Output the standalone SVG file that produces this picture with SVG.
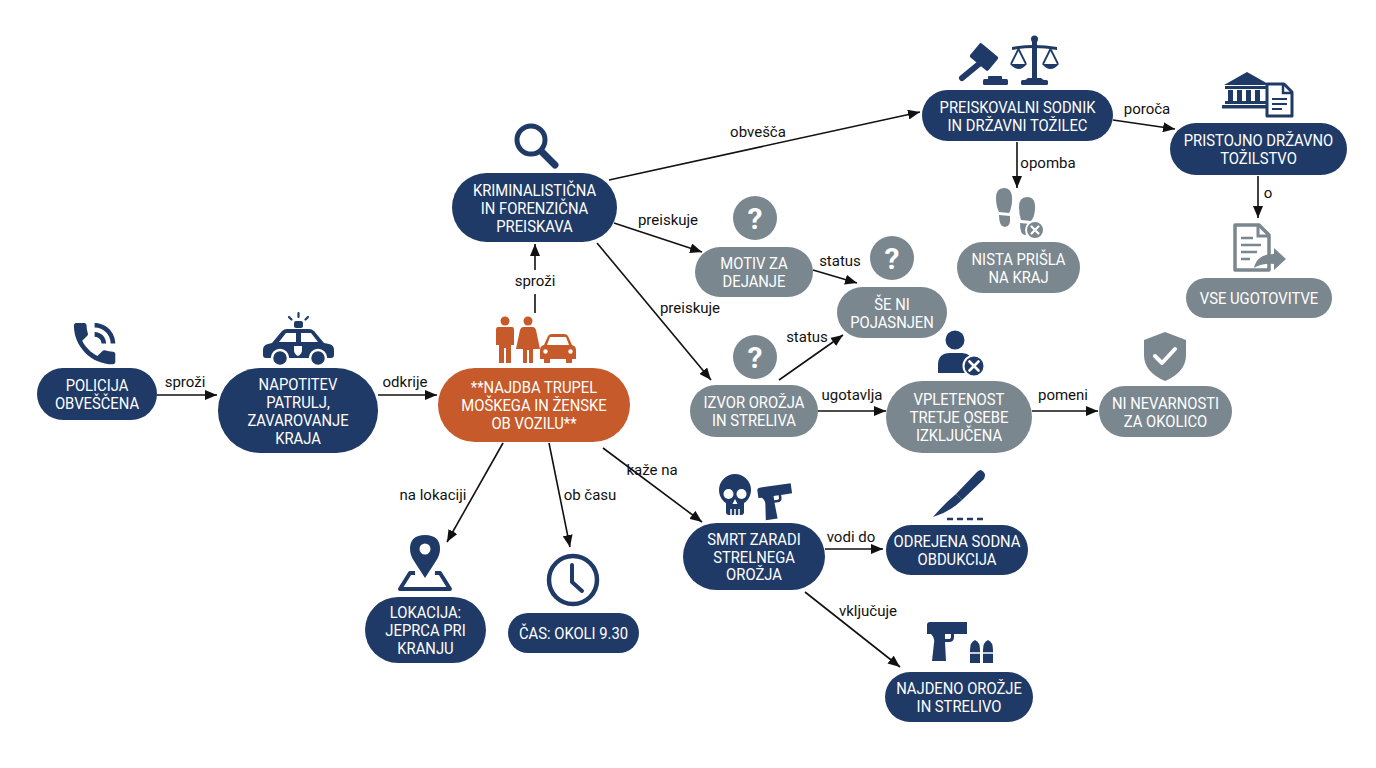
<svg xmlns="http://www.w3.org/2000/svg" width="1376" height="768" viewBox="0 0 1376 768">
<style>
.navy{fill:#1f3a66}
.grey{fill:#7b878f}
.orange{fill:#c65a2b}
.nt{font-family:Roboto,"Liberation Sans",sans-serif;font-size:17px;font-weight:400;fill:#ffffff;text-anchor:middle}
.lb{font-family:Roboto,"Liberation Sans",sans-serif;font-size:15px;fill:#111111;text-anchor:middle}
.edge{stroke:#111111;stroke-width:1.6;fill:none;marker-end:url(#arr)}
.q{font-family:Roboto,"Liberation Sans",sans-serif;font-size:30px;font-weight:700;fill:#ffffff;text-anchor:middle}
.ic{fill:#1f3a66}
.icg{fill:#7b878f}
</style>
<defs>
<marker id="arr" viewBox="0 0 12 10" refX="12" refY="5" markerWidth="12" markerHeight="10" markerUnits="userSpaceOnUse" orient="auto">
<path d="M0,0 L12,5 L0,10 Z" fill="#111111"/>
</marker>
<path id="pistol" d="M0,3 Q0,0 3,0 L40,0 L40,12 L27,12 L27,15 Q27,20 22,20 L18,20 L19,39 L5,39 L7,21 Q8,16 4,12 L0,12 Z M18,12 L18,17 L22,17 Q24,17 24,15 L24,12 Z" fill-rule="evenodd"/>
</defs>
<rect width="1376" height="768" fill="#ffffff"/>

<g id="connectors">
<path class="edge" d="M157,395 L217,395"/>
<text class="lb" x="185" y="387">sproži</text>
<path class="edge" d="M378,395 L437,395"/>
<text class="lb" x="405" y="387">odkrije</text>
<path d="M535,313 L535,294" stroke="#111" stroke-width="1.6" fill="none"/>
<path class="edge" d="M535,270 L535,244"/>
<text class="lb" x="535" y="286">sproži</text>
<path class="edge" d="M609,180 L920,112"/>
<text class="lb" x="758" y="137">obvešča</text>
<path class="edge" d="M614,223 L702,252"/>
<text class="lb" x="668" y="225">preiskuje</text>
<path class="edge" d="M597,243 L711,380"/>
<text class="lb" x="690" y="313">preiskuje</text>
<path class="edge" d="M813,270 L857,283"/>
<text class="lb" x="840" y="266">status</text>
<path class="edge" d="M779,380 L843,335"/>
<text class="lb" x="807" y="342">status</text>
<path class="edge" d="M818,411 L886,411"/>
<text class="lb" x="852" y="400">ugotavlja</text>
<path class="edge" d="M1032,411 L1098,411"/>
<text class="lb" x="1063" y="400">pomeni</text>
<path class="edge" d="M1113,120 L1175,129"/>
<text class="lb" x="1147" y="114">poroča</text>
<path class="edge" d="M1017,142 L1017,188"/>
<text class="lb" x="1048" y="168">opomba</text>
<path class="edge" d="M1258,176 L1258,218"/>
<text class="lb" x="1268" y="198">o</text>
<path class="edge" d="M503,443 L447,542"/>
<text class="lb" x="433" y="500">na lokaciji</text>
<path class="edge" d="M549,443 L570,547"/>
<text class="lb" x="590" y="500">ob času</text>
<path class="edge" d="M603,448 L702,522"/>
<text class="lb" x="652" y="475">kaže na</text>
<path class="edge" d="M825,549 L883,549"/>
<text class="lb" x="851" y="542">vodi do</text>
<path class="edge" d="M805,592 L900,667"/>
<text class="lb" x="868" y="616">vključuje</text>
</g>

<g id="n-policija">
<path class="ic" transform="translate(67,316) scale(2.3)" d="M20 15.5c-1.25 0-2.45-.2-3.57-.57-.35-.11-.74-.03-1.02.24l-2.2 2.2c-2.83-1.44-5.15-3.75-6.59-6.59l2.2-2.21c.28-.26.36-.65.25-1C8.7 6.45 8.5 5.250 8.5 4c0-.55-.45-1-1-1H4c-.55 0-1 .45-1 1 0 9.39 7.61 17 17 17 .55 0 1-.45 1-1v-3.5c0-.55-.45-1-1-1zM19 12h2c0-4.97-4.03-9-9-9v2c3.87 0 7 3.13 7 7zm-4 0h2c0-2.76-2.24-5-5-5v2c1.66 0 3 1.34 3 3z"/>
<rect class="navy" x="37" y="368" width="120" height="52" rx="26"/>
<text class="nt" transform="translate(97,394) scale(0.87,1)"><tspan x="0" y="-3">POLICIJA</tspan><tspan x="0" y="15">OBVEŠČENA</tspan></text>
</g>

<g id="n-napotitev">
<g class="ic">
<path d="M272,343 L282,331 Q284,329 287,329 L309,329 Q312,329 314,331 L324,343 L329,344 Q334,345 334,350 L334,355 Q334,358 331,358 L266,358 Q263,358 263,355 L263,350 Q263,345 268,344 Z"/>
<rect x="294" y="321" width="9" height="7" rx="2"/>
<circle cx="280" cy="358" r="8" stroke="#fff" stroke-width="2.5"/>
<circle cx="318" cy="358" r="8" stroke="#fff" stroke-width="2.5"/>
</g>
<path d="M279,342 L286,333 L296,333 L296,342 Z M301,333 L311,333 L318,342 L301,342 Z" fill="#fff"/>
<path d="M294,346 L302,346 L302,350 Q302,354 298,356 Q294,354 294,350 Z" fill="#fff"/>
<g stroke="#1f3a66" stroke-width="2.2" stroke-linecap="round">
<line x1="298.5" y1="313" x2="298.5" y2="317"/>
<line x1="289" y1="317" x2="291.5" y2="319.5"/>
<line x1="308" y1="317" x2="305.5" y2="319.5"/>
</g>
<rect class="navy" x="218" y="368" width="160" height="85" rx="42"/>
<text class="nt" transform="translate(298,411) scale(0.87,1)"><tspan x="0" y="-21">NAPOTITEV</tspan><tspan x="0" y="-3">PATRULJ,</tspan><tspan x="0" y="15">ZAVAROVANJE</tspan><tspan x="0" y="33">KRAJA</tspan></text>
</g>

<g id="n-najdba">
<g class="orange">
<circle cx="505" cy="321" r="4.5"/>
<path d="M498,327 L512,327 Q514,327 514,330 L514,345 L511,345 L511,363 L506,363 L506,348 L504,348 L504,363 L499,363 L499,345 L496,345 L496,330 Q496,327 498,327 Z"/>
<circle cx="528" cy="321" r="4.5"/>
<path d="M523,327 L533,327 Q535,327 536,330 L540,349 L533,349 L533,363 L529,363 L529,350 L527,350 L527,363 L523,363 L523,349 L516,349 L520,330 Q521,327 523,327 Z"/>
<path d="M544,345 L548,336 Q549,334 552,334 L564,334 Q567,334 568,336 L572,345 Q576,346 576,350 L576,359 L572,359 L572,363 L566,363 L566,359 L550,359 L550,363 L544,363 L544,359 L540,359 L540,350 Q540,346 544,345 Z"/>
</g>
<path d="M547,345 L550,337 L566,337 L569,345 Z" fill="#fff"/>
<circle cx="545.5" cy="351.5" r="2.2" fill="#fff"/>
<circle cx="570.5" cy="351.5" r="2.2" fill="#fff"/>
<rect class="orange" x="438" y="368" width="192" height="74" rx="37"/>
<text class="nt" transform="translate(534,405) scale(0.87,1)"><tspan x="0" y="-12">**NAJDBA TRUPEL</tspan><tspan x="0" y="6">MOŠKEGA IN ŽENSKE</tspan><tspan x="0" y="24">OB VOZILU**</tspan></text>
</g>

<g id="n-kriminalisticna">
<circle cx="531" cy="140" r="14" fill="none" stroke="#1f3a66" stroke-width="5"/>
<line x1="542" y1="152" x2="555" y2="165" stroke="#1f3a66" stroke-width="7" stroke-linecap="round"/>
<rect class="navy" x="452" y="173" width="165" height="69" rx="34.5"/>
<text class="nt" transform="translate(534.5,208) scale(0.87,1)"><tspan x="0" y="-12">KRIMINALISTIČNA</tspan><tspan x="0" y="6">IN FORENZIČNA</tspan><tspan x="0" y="24">PREISKAVA</tspan></text>
</g>

<g id="n-motiv">
<circle class="icg" cx="755" cy="218" r="22"/>
<text class="q" x="755" y="229">?</text>
<rect class="grey" x="695" y="247" width="118" height="50" rx="25"/>
<text class="nt" transform="translate(754,272) scale(0.87,1)"><tspan x="0" y="-3">MOTIV ZA</tspan><tspan x="0" y="15">DEJANJE</tspan></text>
</g>

<g id="n-seni">
<circle class="icg" cx="892" cy="258" r="22"/>
<text class="q" x="892" y="269">?</text>
<rect class="grey" x="837" y="287" width="110" height="51" rx="25.5"/>
<text class="nt" transform="translate(892,312.5) scale(0.87,1)"><tspan x="0" y="-3">ŠE NI</tspan><tspan x="0" y="15">POJASNJEN</tspan></text>
</g>

<g id="n-izvor">
<circle class="icg" cx="755" cy="357" r="22"/>
<text class="q" x="755" y="368">?</text>
<rect class="grey" x="690" y="385" width="128" height="52" rx="26"/>
<text class="nt" transform="translate(754,411) scale(0.87,1)"><tspan x="0" y="-3">IZVOR OROŽJA</tspan><tspan x="0" y="15">IN STRELIVA</tspan></text>
</g>

<g id="n-vpletenost">
<circle class="ic" cx="955" cy="340" r="9.5"/>
<path class="ic" d="M938,373 L938,365 Q938,353 950,353 L962,353 Q972,353 972,363 L972,373 Z"/>
<circle class="ic" cx="974" cy="366" r="10.5" stroke="#fff" stroke-width="2"/>
<path d="M969.5,361.5 L978.5,370.5 M978.5,361.5 L969.5,370.5" stroke="#fff" stroke-width="2.6" stroke-linecap="round"/>
<rect class="grey" x="886" y="381" width="146" height="72" rx="36"/>
<text class="nt" transform="translate(959,417) scale(0.87,1)"><tspan x="0" y="-12">VPLETENOST</tspan><tspan x="0" y="6">TRETJE OSEBE</tspan><tspan x="0" y="24">IZKLJUČENA</tspan></text>
</g>

<g id="n-ninevarnosti">
<path class="icg" d="M1165,332 L1186,340 L1186,355 Q1186,372 1165,381 Q1144,372 1144,355 L1144,340 Z"/>
<path d="M1155,356 L1162,363 L1175,349" fill="none" stroke="#fff" stroke-width="4" stroke-linecap="round" stroke-linejoin="round"/>
<rect class="grey" x="1099" y="386" width="133" height="51" rx="25.5"/>
<text class="nt" transform="translate(1165.5,411.5) scale(0.87,1)"><tspan x="0" y="-3">NI NEVARNOSTI</tspan><tspan x="0" y="15">ZA OKOLICO</tspan></text>
</g>

<g id="n-preiskovalni">
<g class="ic">
<rect x="975" y="45" width="18" height="24" rx="2" transform="rotate(-50 984 57)"/>
<line x1="979" y1="64" x2="962" y2="78" stroke="#1f3a66" stroke-width="6" stroke-linecap="round"/>
<rect x="988" y="76" width="14" height="4" rx="1"/>
<rect x="983" y="79" width="25" height="6" rx="1.5"/>
<rect x="1032" y="40" width="5" height="38"/>
<circle cx="1034.5" cy="39" r="3.5"/>
<path d="M1012,47 Q1034,43 1057,47 L1057,50 Q1034,46 1012,50 Z"/>
<path d="M1028,78 L1041,78 L1045,81 L1024,81 Z"/>
<rect x="1021" y="80" width="27" height="5" rx="1.5"/>
<path d="M1010,64 Q1018.5,74 1027,64 Z"/>
<path d="M1042,64 Q1050.5,74 1059,64 Z"/>
</g>
<path d="M1018.5,49 L1011,64 M1018.5,49 L1026,64 M1050.5,49 L1043,64 M1050.5,49 L1058,64" stroke="#1f3a66" stroke-width="1.8" fill="none"/>
<rect class="navy" x="922" y="90" width="191" height="51" rx="25.5"/>
<text class="nt" transform="translate(1017.5,115.5) scale(0.87,1)"><tspan x="0" y="-3">PREISKOVALNI SODNIK</tspan><tspan x="0" y="15">IN DRŽAVNI TOŽILEC</tspan></text>
</g>

<g id="n-pristojno">
<g class="ic">
<path d="M1224,85 L1247,72 L1270,85 Z"/>
<rect x="1225" y="86" width="44" height="3"/>
<rect x="1228" y="90" width="5" height="11"/>
<rect x="1237" y="90" width="5" height="11"/>
<rect x="1246" y="90" width="5" height="11"/>
<rect x="1255" y="90" width="5" height="11"/>
<rect x="1225" y="101" width="44" height="3"/>
<rect x="1222" y="105" width="50" height="3.5"/>
</g>
<path d="M1267,84 L1284,84 L1292,92 L1292,116 L1267,116 Z" fill="#fff" stroke="#1f3a66" stroke-width="3" stroke-linejoin="round"/>
<path d="M1283,84 L1283,93 L1292,93" fill="none" stroke="#1f3a66" stroke-width="2.5"/>
<path d="M1272,99 L1287,99 M1272,104 L1287,104 M1272,109 L1282,109" stroke="#1f3a66" stroke-width="2.2"/>
<rect class="navy" x="1170" y="123" width="177" height="52" rx="26"/>
<text class="nt" transform="translate(1258.5,149) scale(0.87,1)"><tspan x="0" y="-3">PRISTOJNO DRŽAVNO</tspan><tspan x="0" y="15">TOŽILSTVO</tspan></text>
</g>

<g id="n-nista">
<g class="icg">
<path d="M1004,188 Q1013,188 1012,202 Q1011,210 1009,213 L999,212 Q996,206 996,198 Q996,188 1004,188 Z"/>
<path d="M999,215 L1010,216 Q1011,227 1005,227 Q999,227 999,215 Z"/>
<path d="M1027,197 Q1036,197 1035,210 Q1034,218 1031,221 L1021,220 Q1019,214 1019,207 Q1019,197 1027,197 Z"/>
<path d="M1020,223 L1030,224 Q1030,235 1025,235 Q1020,235 1020,223 Z"/>
<circle cx="1035" cy="230" r="9" stroke="#fff" stroke-width="2"/>
</g>
<path d="M1031.5,226.5 L1038.5,233.5 M1038.5,226.5 L1031.5,233.5" stroke="#fff" stroke-width="2.2" stroke-linecap="round"/>
<rect class="grey" x="957" y="242" width="123" height="51" rx="25.5"/>
<text class="nt" transform="translate(1018.5,267.5) scale(0.87,1)"><tspan x="0" y="-3">NISTA PRIŠLA</tspan><tspan x="0" y="15">NA KRAJ</tspan></text>
</g>

<g id="n-vse">
<path d="M1235,225 L1259,225 L1269,235 L1269,270 L1235,270 Z" fill="#ffffff" stroke="#7b878f" stroke-width="3.5" stroke-linejoin="round"/>
<path d="M1258,225 L1258,236 L1269,236" fill="none" stroke="#7b878f" stroke-width="3"/>
<path d="M1241,238 L1253,238 M1241,245 L1261,245 M1241,252 L1257,252 M1241,259 L1250,259" stroke="#7b878f" stroke-width="2.6"/>
<path class="icg" d="M1254,268 Q1257,254 1274,254 L1274,248 L1286,259 L1274,270 L1274,264 Q1262,263 1254,268 Z"/>
<rect class="grey" x="1186" y="278" width="146" height="40" rx="20"/>
<text class="nt" transform="translate(1259,298) scale(0.87,1)"><tspan x="0" y="6">VSE UGOTOVITVE</tspan></text>
</g>

<g id="n-lokacija">
<path class="ic" d="M425,578 L414,561 Q410,555 410,549 Q410,535 425,535 Q440,535 440,549 Q440,555 436,561 Z"/>
<circle cx="425" cy="549" r="5.5" fill="#fff"/>
<path d="M415,573 L410,573 L400,589 L450,589 L440,573 L435,573" fill="none" stroke="#1f3a66" stroke-width="4" stroke-linejoin="round"/>
<rect class="navy" x="365" y="597" width="121" height="66" rx="33"/>
<text class="nt" transform="translate(425.5,630) scale(0.87,1)"><tspan x="0" y="-12">LOKACIJA:</tspan><tspan x="0" y="6">JEPRCA PRI</tspan><tspan x="0" y="24">KRANJU</tspan></text>
</g>

<g id="n-cas">
<circle cx="573" cy="580" r="24" fill="none" stroke="#1f3a66" stroke-width="4.5"/>
<path d="M572,565 L572,582 L582,591" fill="none" stroke="#1f3a66" stroke-width="4" stroke-linecap="round" stroke-linejoin="round"/>
<rect class="navy" x="508" y="613" width="131" height="40" rx="20"/>
<text class="nt" transform="translate(573.5,633) scale(0.87,1)"><tspan x="0" y="6">ČAS: OKOLI 9.30</tspan></text>
</g>

<g id="n-smrt">
<g class="ic">
<circle cx="735" cy="490" r="16"/>
<rect x="726" y="498" width="18" height="17" rx="3"/>
</g>
<circle cx="728.5" cy="494" r="5" fill="#fff"/>
<circle cx="741.5" cy="494" r="5" fill="#fff"/>
<path d="M735,499 L732.5,504 L737.5,504 Z" fill="#fff"/>
<path d="M731,509 L731,515 M735,509 L735,515 M739,509 L739,515" stroke="#fff" stroke-width="1.5"/>
<use href="#pistol" class="ic" transform="translate(757,488) rotate(-8) scale(0.85)"/>
<rect class="navy" x="683" y="523" width="142" height="67" rx="33.5"/>
<text class="nt" transform="translate(754,556.5) scale(0.87,1)"><tspan x="0" y="-12">SMRT ZARADI</tspan><tspan x="0" y="6">STRELNEGA</tspan><tspan x="0" y="24">OROŽJA</tspan></text>
</g>

<g id="n-odrejena">
<path class="ic" d="M981,470 Q987,473 984,479 L962,500 L956,494 L977,472 Q979,470 981,470 Z"/>
<path class="ic" d="M956,494 L962,500 Q950,512 933,517 Q944,504 956,494 Z"/>
<line x1="947" y1="519" x2="986" y2="519" stroke="#1f3a66" stroke-width="2.5" stroke-dasharray="6,4"/>
<rect class="navy" x="886" y="525" width="142" height="50" rx="25"/>
<text class="nt" transform="translate(957,550) scale(0.87,1)"><tspan x="0" y="-3">ODREJENA SODNA</tspan><tspan x="0" y="15">OBDUKCIJA</tspan></text>
</g>

<g id="n-najdeno">
<use href="#pistol" class="ic" transform="translate(927,622)"/>
<g class="ic">
<path d="M970,663 L970,650 Q970,642 975,640 Q980,642 980,650 L980,663 Z"/>
<path d="M983,663 L983,650 Q983,642 988,640 Q993,642 993,650 L993,663 Z"/>
</g>
<path d="M970,653 L980,653 M983,653 L993,653" stroke="#fff" stroke-width="1.5"/>
<rect class="navy" x="885" y="672" width="148" height="50" rx="25"/>
<text class="nt" transform="translate(959,697) scale(0.87,1)"><tspan x="0" y="-3">NAJDENO OROŽJE</tspan><tspan x="0" y="15">IN STRELIVO</tspan></text>
</g>
</svg>
